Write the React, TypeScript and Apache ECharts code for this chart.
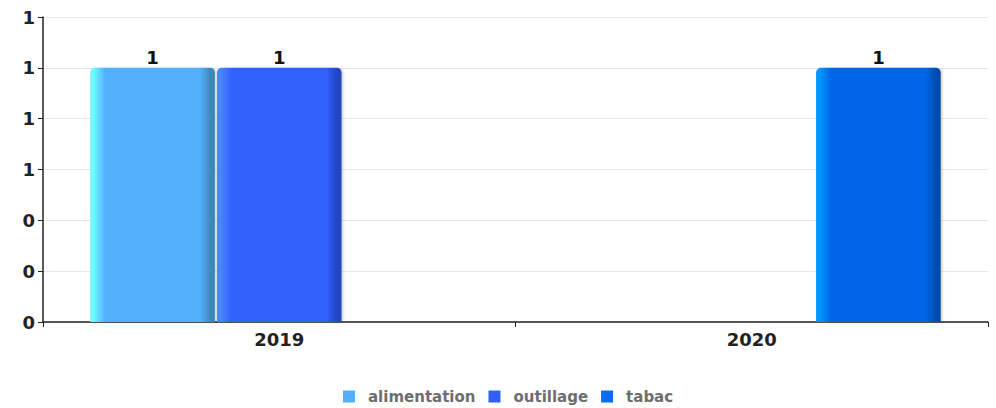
import React, { useEffect, useRef } from "react";
import * as echarts from "echarts";

const categories = ["2019", "2020"];
const seriesNames = ["alimentation", "outillage", "tabac"];
const alimentation: (number | null)[] = [1, null];
const outillage: (number | null)[] = [1, null];
const tabac: (number | null)[] = [null, 1];

const palettes = [
  { legend: "#52b0fd", light: "#6ef8ff", base: "#52b0fd", dark: "#3d86b8" },
  { legend: "#3060fc", light: "#4a86ff", base: "#3060fc", dark: "#2444c0" },
  { legend: "#0a6cf0", light: "#0096ff", base: "#0066e8", dark: "#004aaa" },
];

function grad(p: { light: string; base: string; dark: string }) {
  return new echarts.graphic.LinearGradient(0, 0, 1, 0, [
    { offset: 0, color: p.light },
    { offset: 0.03, color: p.light },
    { offset: 0.12, color: p.base },
    { offset: 0.88, color: p.base },
    { offset: 0.97, color: p.dark },
    { offset: 1, color: p.dark },
  ]);
}

export default function App() {
  const ref = useRef<HTMLDivElement>(null);
  useEffect(() => {
    if (!ref.current) return;
    const chart = echarts.init(ref.current, undefined, { renderer: "svg" });
    const data = [alimentation, outillage, tabac];
    chart.setOption({
      animation: false,
      textStyle: { fontFamily: "DejaVu Sans" },
      grid: { left: 43, right: 8, top: 17, bottom: 86, containLabel: false },
      legend: {
        top: 384,
        left: 338,
        itemWidth: 12,
        itemHeight: 12,
        itemGap: 13,
        icon: "rect",
        textStyle: {
          color: "#6e6e6e",
          fontWeight: "bold",
          fontSize: 15,
          fontFamily: "DejaVu Sans",
          padding: [0, 0, 0, 8],
        },
        data: seriesNames.map((n, i) => ({ name: n, itemStyle: { color: palettes[i].legend } })),
      },
      xAxis: {
        type: "category",
        data: categories,
        axisLine: { lineStyle: { color: "#222", width: 1.5 } },
        axisTick: { show: true, length: 5, lineStyle: { color: "#222" } },
        axisLabel: { color: "#222", fontWeight: "bold", fontSize: 18, margin: 8 },
      },
      yAxis: {
        type: "value",
        min: 0,
        max: 1.2,
        interval: 0.2,
        axisLine: { show: true, lineStyle: { color: "#222", width: 1.5 } },
        axisTick: { show: true, length: 5, lineStyle: { color: "#222" } },
        axisLabel: {
          color: "#222",
          fontWeight: "bold",
          fontSize: 18,
          margin: 8,
          formatter: (v: number) => Math.round(v).toString(),
        },
        splitLine: { lineStyle: { color: "#e6e6e6" } },
      },
      series: seriesNames.map((name, i) => ({
        name,
        type: "bar",
        data: data[i],
        barCategoryGap: "20%",
        barGap: "1.6%",
        itemStyle: {
          color: grad(palettes[i]),
          borderRadius: [5, 5, 0, 0],
          shadowColor: "rgba(0,0,0,0.15)",
          shadowOffsetX: 2,
          shadowBlur: 2,
        },
        label: {
          show: true,
          position: "top",
          color: "#111",
          fontWeight: "bold",
          fontSize: 18,
          distance: 1,
          formatter: (p: any) => Math.round(p.value).toString(),
        },
      })),
    });
    return () => chart.dispose();
  }, []);
  return (
    <div
      ref={ref}
      style={{ position: "absolute", left: 0, top: 0, width: 996, height: 408 }}
    />
  );
}
